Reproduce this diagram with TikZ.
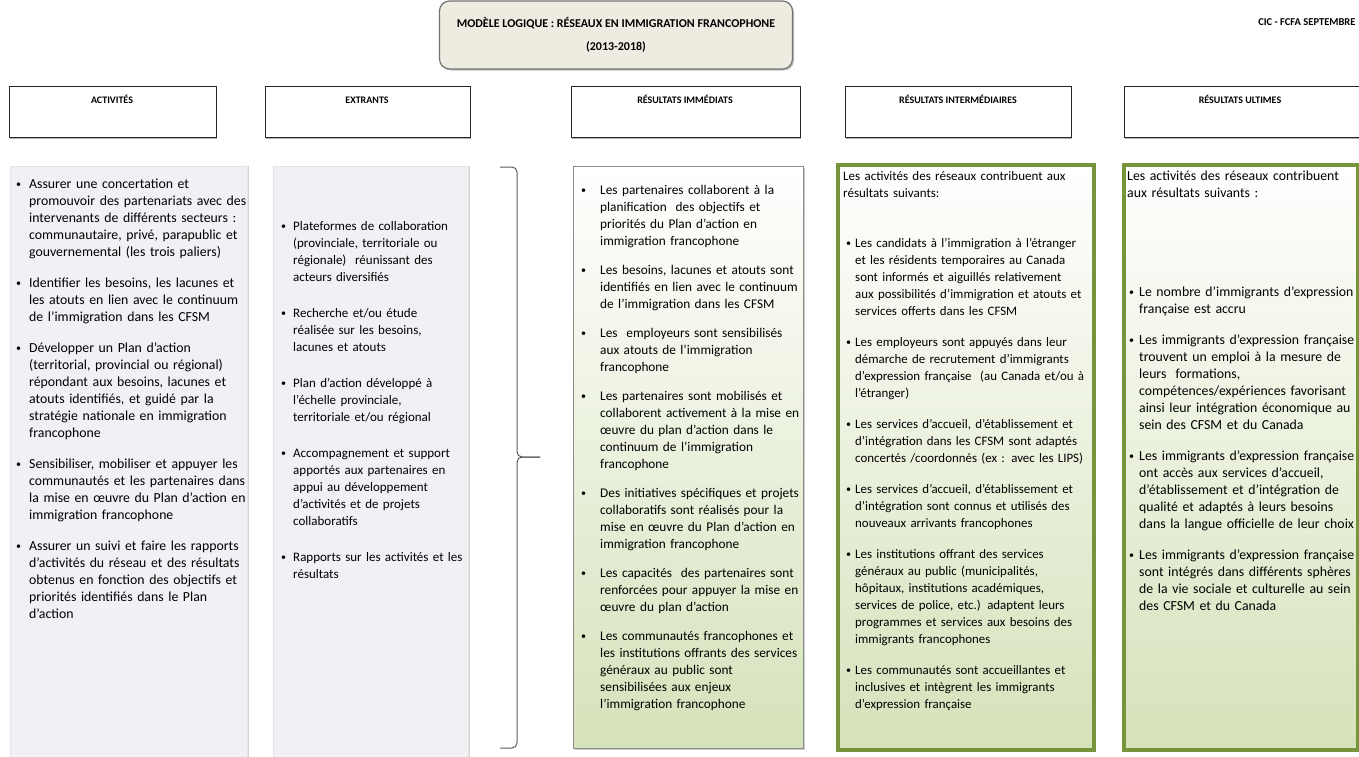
\documentclass[tikz,border=0pt]{standalone}
\usepackage{fontspec}
\setmainfont{Carlito}
\usetikzlibrary{shadows}

\definecolor{titlefill}{HTML}{EEECE1}
\definecolor{panelgray}{HTML}{F1F1F5}
\definecolor{olivegreen}{HTML}{77933C}
\definecolor{palegreen}{HTML}{D5E2BA}
\definecolor{bracegray}{HTML}{5A5A5A}

% one bullet item, hanging indent #1, gap \itmgap after it
\newcommand{\itmgap}{14pt}
\newcommand{\bul}{\raisebox{1pt}{\fontsize{10}{10}\selectfont\textbullet}}
\newcommand{\itm}[2][13pt]{\hangindent=#1\hangafter=1\noindent\makebox[#1][l]{\bul}#2\par\vspace{\itmgap}}
\newcommand{\nl}{\newline}

\tikzset{
  titlebox/.style={draw=black!55, line width=1.2pt, fill=titlefill, rounded corners=10pt,
    minimum width=353, minimum height=68, align=center,
    font=\fontsize{12}{23}\selectfont\bfseries,
    drop shadow={shadow xshift=1.5pt, shadow yshift=-1.5pt, opacity=.5}},
  headbox/.style={draw=black!85, fill=white, line width=.7pt, anchor=north west, minimum height=51,
    drop shadow={shadow xshift=1pt, shadow yshift=-2pt, opacity=.6}},
  headtext/.style={anchor=base, font=\fontsize{10}{12}\selectfont\bfseries},
  graypanel/.style={fill=panelgray, draw=black!10, anchor=north west,
    drop shadow={shadow xshift=2pt, shadow yshift=0pt, opacity=.35}},
  greenpanel/.style={top color=white, bottom color=palegreen, anchor=north west,
    drop shadow={shadow xshift=2pt, shadow yshift=-2pt, opacity=.4}},
  coltext/.style={anchor=north west, inner sep=0pt, text width=280, align=left,
    font=\fontsize{#1}{17}\selectfont},
  coltext/.default=13.8,
  braceline/.style={draw=bracegray, line width=1pt, rounded corners=5pt},
}

\begin{document}
\begin{tikzpicture}[x=1pt,y=-1pt]
  \useasboundingbox (0,0) rectangle (1359,756);

  % title
  \node (title) [titlebox] at (616,35)
    {MODÈLE LOGIQUE : RÉSEAUX EN IMMIGRATION FRANCOPHONE\\(2013-2018)};
  \node (stamp) [anchor=east, font=\fontsize{10.5}{12}\selectfont\bfseries] at (1359,22) {CIC - FCFA SEPTEMBRE};

  % column headers
  \node (acthead) [headbox, minimum width=207] at (9,86) {};
  \node (exthead) [headbox, minimum width=205] at (265,86) {};
  \node (imhead) [headbox, minimum width=229] at (571,86) {};
  \node (inthead) [headbox, minimum width=226] at (845,86) {};
  \node (ulthead) [headbox, minimum width=240] at (1124,86) {};
  \node (actlabel) [headtext] at (112,103) {ACTIVITÉS};
  \node (extlabel) [headtext] at (367,103) {EXTRANTS};
  \node (imlabel) [headtext] at (685,103) {RÉSULTATS IMMÉDIATS};
  \node (intlabel) [headtext] at (958,103) {RÉSULTATS INTERMÉDIAIRES};
  \node (ultlabel) [headtext] at (1240,103) {RÉSULTATS ULTIMES};

  % column panels
  \node (actpanel) [graypanel, minimum width=237, minimum height=592] at (10,166) {};
  \node (extpanel) [graypanel, minimum width=195, minimum height=592] at (273,166) {};
  \node (impanel) [greenpanel, draw=black!45, line width=.8pt, minimum width=230, minimum height=582] at (573,166) {};
  \node (intpanel) [greenpanel, draw=olivegreen, line width=3.5pt, minimum width=256, minimum height=585] at (836,163) {};
  \node (ultpanel) [greenpanel, draw=olivegreen, line width=3.5pt, minimum width=234, minimum height=585] at (1122,163) {};

  % brace
  \coordinate (btop) at (500,167);
  \coordinate (bbot) at (500,748);
  \coordinate (btip) at (540,457);
  \draw[braceline] (btop) -- (517,167) -- (517,457) -- (btip);
  \draw[braceline] (btip) -- (517,457) -- (517,748) -- (bbot);

  % texts
  \node (acttext) [coltext] at (16,179) {%
    \itm{Assurer une concertation et\nl promouvoir des partenariats avec des\nl intervenants de différents secteurs :\nl communautaire, privé, parapublic et\nl gouvernemental (les trois paliers)}
    \itm{Identifier les besoins, les lacunes et\nl les atouts en lien avec le continuum\nl de l’immigration dans les CFSM}
    \itm{Développer un Plan d’action\nl (territorial, provincial ou régional)\nl répondant aux besoins, lacunes et\nl atouts identifiés, et guidé par la\nl stratégie nationale en immigration\nl francophone}
    \itm{Sensibiliser, mobiliser et appuyer les\nl communautés et les partenaires dans\nl la mise en œuvre du Plan d’action en\nl immigration francophone}
    \itm{Assurer un suivi et faire les rapports\nl d’activités du réseau et des résultats\nl obtenus en fonction des objectifs et\nl priorités identifiés dans le Plan\nl d’action}};

  \node (exttext) [coltext=13] at (281,221) {\renewcommand{\itmgap}{19pt}%
    \itm[12pt]{Plateformes de collaboration\nl (provinciale, territoriale ou\nl régionale)\ \ réunissant des\nl acteurs diversifiés}
    \itm[12pt]{Recherche et/ou étude\nl réalisée sur les besoins,\nl lacunes et atouts}
    \itm[12pt]{Plan d’action développé à\nl l’échelle provinciale,\nl territoriale et/ou régional}
    \itm[12pt]{Accompagnement et support\nl apportés aux partenaires en\nl appui au développement\nl d’activités et de projets\nl collaboratifs}
    \itm[12pt]{Rapports sur les activités et les\nl résultats}};

  \node (imtext) [coltext=13.3] at (581,185) {\renewcommand{\itmgap}{12pt}%
    \itm[19pt]{Les partenaires collaborent à la\nl planification\ \ des objectifs et\nl priorités du Plan d’action en\nl immigration francophone}
    \itm[19pt]{Les besoins, lacunes et atouts sont\nl identifiés en lien avec le continuum\nl de l’immigration dans les CFSM}
    \itm[19pt]{Les\ \ employeurs sont sensibilisés\nl aux atouts de l’immigration\nl francophone}
    \itm[19pt]{Les partenaires sont mobilisés et\nl collaborent activement à la mise en\nl œuvre du plan d’action dans le\nl continuum de l’immigration\nl francophone}
    \itm[19pt]{Des initiatives spécifiques et projets\nl collaboratifs sont réalisés pour la\nl mise en œuvre du Plan d’action en\nl immigration francophone}
    \itm[19pt]{Les capacités\ \ des partenaires sont\nl renforcées pour appuyer la mise en\nl œuvre du plan d’action}
    \itm[19pt]{Les communautés francophones et\nl les institutions offrants des services\nl généraux au public sont\nl sensibilisées aux enjeux\nl l’immigration francophone}};

  \node (intintro) [coltext=13] at (843,171)
    {Les activités des réseaux contribuent aux\\ résultats suivants:};
  \node (inttext) [coltext=12.9] at (846,238) {%
    \itm[9pt]{Les candidats à l’immigration à l’étranger\nl et les résidents temporaires au Canada\nl sont informés et aiguillés relativement\nl aux possibilités d’immigration et atouts et\nl services offerts dans les CFSM}
    \itm[9pt]{Les employeurs sont appuyés dans leur\nl démarche de recrutement d’immigrants\nl d’expression française\ \ (au Canada et/ou à\nl l’étranger)}
    \itm[9pt]{Les services d’accueil, d’établissement et\nl d’intégration dans les CFSM sont adaptés\nl concertés /coordonnés (ex : avec les LIPS)}
    \itm[9pt]{Les services d’accueil, d’établissement et\nl d’intégration sont connus et utilisés des\nl nouveaux arrivants francophones}
    \itm[9pt]{Les institutions offrant des services\nl généraux au public (municipalités,\nl hôpitaux, institutions académiques,\nl services de police, etc.) adaptent leurs\nl programmes et services aux besoins des\nl immigrants francophones}
    \itm[9pt]{Les communautés sont accueillantes et\nl inclusives et intègrent les immigrants\nl d’expression française}};

  \node (ultintro) [coltext] at (1127,171)
    {Les activités des réseaux contribuent\\ aux résultats suivants :};
  \node (ulttext) [coltext] at (1129,287) {%
    \itm[10pt]{Le nombre d’immigrants d’expression\nl française est accru}
    \itm[10pt]{Les immigrants d’expression française\nl trouvent un emploi à la mesure de\nl leurs\ \ formations,\nl compétences/expériences favorisant\nl ainsi leur intégration économique au\nl sein des CFSM et du Canada}
    \itm[10pt]{Les immigrants d’expression française\nl ont accès aux services d’accueil,\nl d’établissement et d’intégration de\nl qualité et adaptés à leurs besoins\nl dans la langue officielle de leur choix}
    \itm[10pt]{Les immigrants d’expression française\nl sont intégrés dans différents sphères\nl de la vie sociale et culturelle au sein\nl des CFSM et du Canada}};
\end{tikzpicture}
\end{document}
